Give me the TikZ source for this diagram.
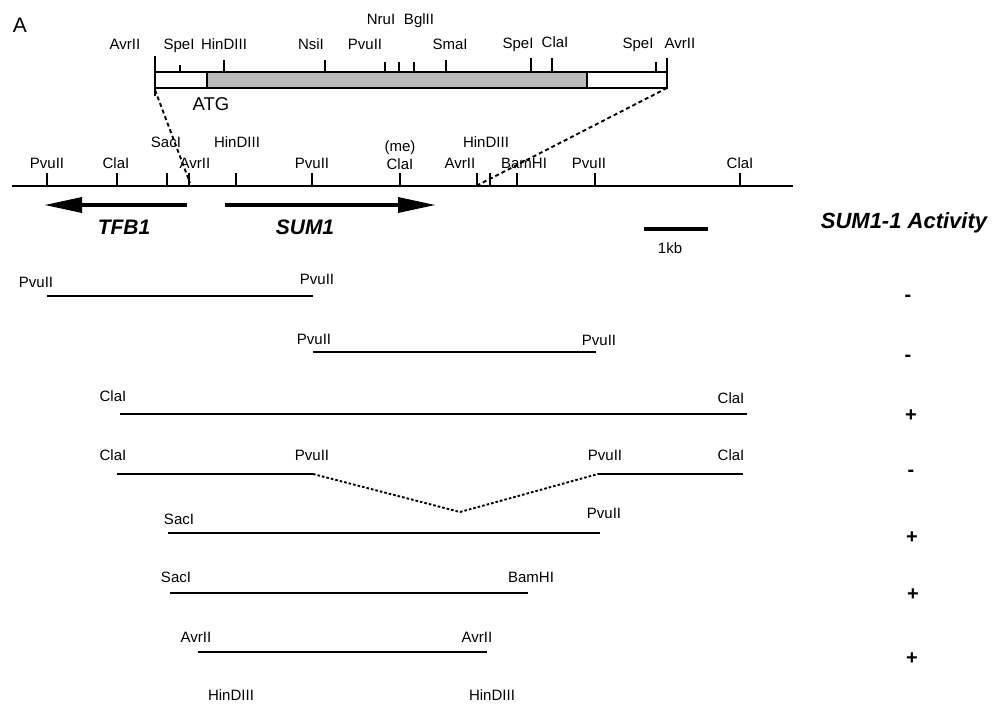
\documentclass[tikz,border=0pt]{standalone}
\usepackage{fontspec}
\setmainfont{Liberation Sans}
\begin{document}
\begin{tikzpicture}[x=1pt,y=-1pt,
  lab/.style={inner sep=0pt,text height=10.8pt,text depth=0pt,font=\fontsize{15}{15}\selectfont},
  genelab/.style={inner sep=0pt,font=\fontsize{21}{22}\selectfont\bfseries\itshape},
  sign/.style={inner sep=0pt,font=\fontsize{20}{20}\selectfont\bfseries},
  tk/.style={line width=1.6pt},
  mapline/.style={line width=2.2pt},
  frag/.style={line width=2.1pt},
  joinline/.style={line width=1.9pt,dash pattern=on 4pt off 3pt},
  gapline/.style={line width=1.9pt,dash pattern=on 2.6pt off 2pt}]
\useasboundingbox (0,0) rectangle (992,707);

% panel letter
\node[inner sep=0pt,font=\fontsize{21}{22}\selectfont] (pA) at (20,25) {A};

% ---------- expanded SUM1 region ----------
\fill[black!27] (207,72) rectangle (587,88);
\draw[line width=1.5pt] (155,72) rectangle (667,88);
\draw[line width=1.5pt] (207,72) -- (207,88) (587,72) -- (587,88);
\draw[tk] (155,56) -- (155,96);
\draw[tk] (180,65) -- (180,72);
\draw[tk] (224,60) -- (224,72);
\draw[tk] (325,60) -- (325,72);
\draw[tk] (385,62) -- (385,72);
\draw[tk] (399,62) -- (399,72);
\draw[tk] (414,62) -- (414,72);
\draw[tk] (446,60) -- (446,72);
\draw[tk] (531,58) -- (531,72);
\draw[tk] (552,58) -- (552,72);
\draw[tk] (656,62) -- (656,72);
\draw[tk] (667,58) -- (667,72);
\node[lab] (tNru) at (381,19) {NruI};
\node[lab] (tBgl) at (419,19) {BglII};
\node[lab] (tAvr1) at (125,44) {AvrII};
\node[lab] (tSpe1) at (179,44) {SpeI};
\node[lab] (tHin) at (224,44) {HinDIII};
\node[lab] (tNsi) at (311,44) {NsiI};
\node[lab] (tPvu) at (365,44) {PvuII};
\node[lab] (tSma) at (450,44) {SmaI};
\node[lab] (tSpe2) at (518,43) {SpeI};
\node[lab] (tCla) at (555,42) {ClaI};
\node[lab] (tSpe3) at (638,43) {SpeI};
\node[lab] (tAvr2) at (680,43) {AvrII};
\node[inner sep=0pt,font=\fontsize{18.5}{19}\selectfont] (atg) at (211,104) {ATG};

% ---------- genomic map ----------
\coordinate (zoomL) at (155,90);
\coordinate (zoomR) at (667,88);
\coordinate (mapAvr) at (190,183);
\coordinate (mapHin) at (478,185);
\draw[joinline] (zoomL) -- (mapAvr);
\draw[joinline] (zoomR) -- (mapHin);

\draw[mapline] (12,186) -- (793,186);
\foreach \t in {47,117,167,189,236,312,400,477,490,517,595,740}
  \draw[tk] (\t,186) -- (\t,173);
\node[lab] (mPvu1) at (47,163) {PvuII};
\node[lab] (mCla1) at (116,163) {ClaI};
\node[lab] (mSac) at (166,142) {SacI};
\node[lab] (mAvr1) at (195,163) {AvrII};
\node[lab] (mHin1) at (237,142) {HinDIII};
\node[lab] (mPvu2) at (312,163) {PvuII};
\node[lab] (mMe) at (400,146) {(me)};
\node[lab] (mCla2) at (400,164) {ClaI};
\node[lab] (mAvr2) at (460,163) {AvrII};
\node[lab] (mHin2) at (486,142) {HinDIII};
\node[lab] (mBam) at (524,163) {BamHI};
\node[lab] (mPvu3) at (589,163) {PvuII};
\node[lab] (mCla3) at (740,163) {ClaI};

% gene arrows
\draw[line width=4.8pt] (187,205) -- (80,205);
\fill (82,197) -- (45,205) -- (82,213) -- cycle;
\draw[line width=4.8pt] (225,205) -- (400,205);
\fill (398,197) -- (435,205) -- (398,213) -- cycle;
\node[genelab] (gTFB) at (124,227) {TFB1};
\node[genelab] (gSUM) at (305,227) {SUM1};

% scale bar
\draw[line width=3.6pt] (644,229) -- (708,229);
\node[lab] (kb) at (670,248) {1kb};
\node[inner sep=0pt,font=\fontsize{22}{23}\selectfont\bfseries\itshape] (act) at (904,223) {SUM1-1 Activity};

% ---------- subclones ----------
% 1
\draw[frag] (47,296) -- (313,296);
\node[lab] (f1a) at (36,282) {PvuII};
\node[lab] (f1b) at (317,279) {PvuII};
\node[sign] (s1) at (908,298) {-};
% 2
\draw[frag] (313,352) -- (596,352);
\node[lab] (f2a) at (314,339) {PvuII};
\node[lab] (f2b) at (599,340) {PvuII};
\node[sign] (s2) at (908,358) {-};
% 3
\draw[frag] (120,414) -- (747,414);
\node[lab] (f3a) at (113,396) {ClaI};
\node[lab] (f3b) at (731,398) {ClaI};
\node[sign] (s3) at (911,416) {+};
% 4 (internal PvuII deletion)
\coordinate (d1) at (313,474);
\coordinate (d2) at (460,512);
\coordinate (d3) at (598,474);
\draw[frag] (117,474) -- (d1);
\draw[gapline] (d1) -- (d2) -- (d3);
\draw[frag] (d3) -- (743,474);
\node[lab] (f4a) at (113,455) {ClaI};
\node[lab] (f4b) at (312,455) {PvuII};
\node[lab] (f4c) at (605,455) {PvuII};
\node[lab] (f4d) at (731,455) {ClaI};
\node[sign] (s4) at (911,473) {-};
% 5
\draw[frag] (168,533) -- (600,533);
\node[lab] (f5a) at (179,519) {SacI};
\node[lab] (f5b) at (604,513) {PvuII};
\node[sign] (s5) at (912,538) {+};
% 6
\draw[frag] (170,593) -- (528,593);
\node[lab] (f6a) at (176,577) {SacI};
\node[lab] (f6b) at (531,577) {BamHI};
\node[sign] (s6) at (913,595) {+};
% 7
\draw[frag] (198,652) -- (487,652);
\node[lab] (f7a) at (196,637) {AvrII};
\node[lab] (f7b) at (477,637) {AvrII};
\node[sign] (s7) at (912,659) {+};
\node[lab] (h1) at (231,695) {HinDIII};
\node[lab] (h2) at (492,695) {HinDIII};
\end{tikzpicture}
\end{document}
